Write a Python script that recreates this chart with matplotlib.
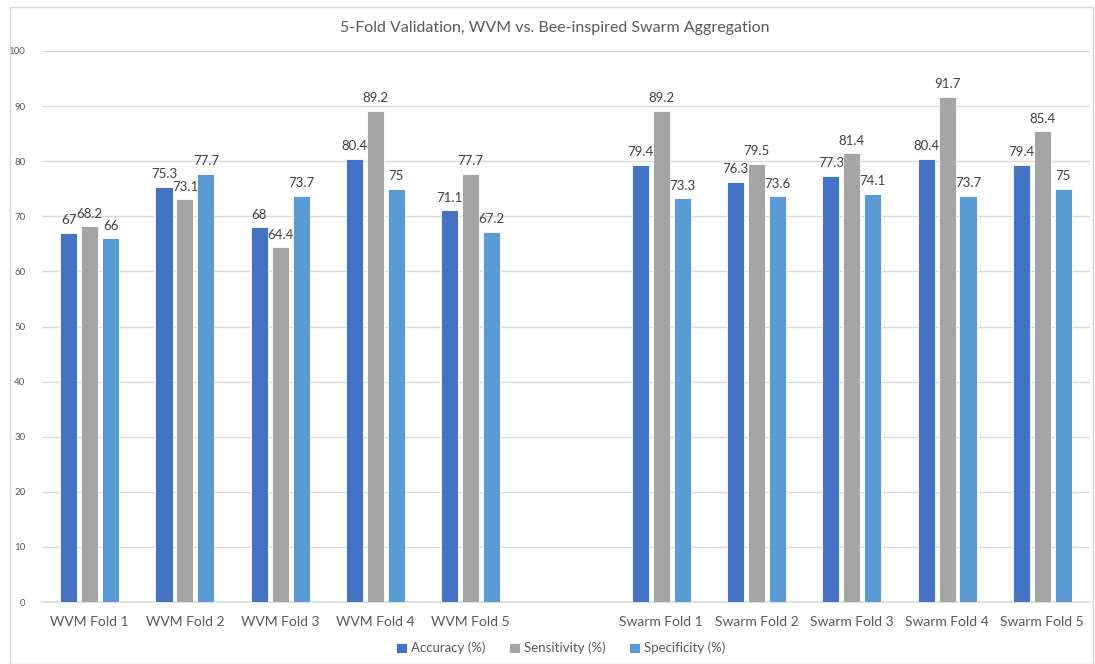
import numpy as np
import matplotlib
matplotlib.use('Agg')
from matplotlib import pyplot as plt
from matplotlib.patches import Rectangle

plt.rcParams['font.family'] = ['Lato', 'DejaVu Sans']

categories = ['WVM Fold 1', 'WVM Fold 2', 'WVM Fold 3', 'WVM Fold 4', 'WVM Fold 5', '',
              'Swarm Fold 1', 'Swarm Fold 2', 'Swarm Fold 3', 'Swarm Fold 4', 'Swarm Fold 5']
accuracy = [67, 75.3, 68, 80.4, 71.1, None, 79.4, 76.3, 77.3, 80.4, 79.4]
sensitivity = [68.2, 73.1, 64.4, 89.2, 77.7, None, 89.2, 79.5, 81.4, 91.7, 85.4]
specificity = [66, 77.7, 73.7, 75, 67.2, None, 73.3, 73.6, 74.1, 73.7, 75]

series = [
    ('Accuracy (%)', accuracy, '#4472C4'),
    ('Sensitivity (%)', sensitivity, '#A5A5A5'),
    ('Specificity (%)', specificity, '#5B9BD5'),
]

txt = '#595959'
fig = plt.figure(figsize=(10.95, 6.64), dpi=100)
ax = fig.add_axes([42 / 1095, 1 - 602 / 664, 1048 / 1095, 551 / 664])

x = np.arange(len(categories))
width = 0.18
step = 0.22
handles = []
for i, (name, vals, col) in enumerate(series):
    idx = [k for k, v in enumerate(vals) if v is not None]
    v = [vals[k] for k in idx]
    pos = x[idx] + (i - 1) * step
    b = ax.bar(pos, v, width, color=col, edgecolor='white', linewidth=0.6, zorder=3, label=name)
    handles.append(b)
    for p, val in zip(pos, v):
        ax.text(p, val + 1.2, f'{val:g}', ha='center', va='bottom', fontsize=9.5, color='#404040')

ax.set_xlim(-0.5, len(categories) - 0.5)
ax.set_ylim(0, 100)
ax.set_yticks(range(0, 101, 10))
ax.set_xticks(x)
ax.set_xticklabels(categories, fontsize=10, color=txt)
ax.tick_params(axis='y', labelsize=7, colors=txt, length=0, pad=12)
ax.tick_params(axis='x', length=0, pad=10)
ax.grid(axis='y', color='#D9D9D9', linewidth=1, zorder=0)
for s in ['top', 'right', 'left']:
    ax.spines[s].set_visible(False)
ax.spines['bottom'].set_color('#D9D9D9')
ax.spines['bottom'].set_linewidth(1.2)

fig.text(0.507, 1 - 28 / 664, '5-Fold Validation, WVM vs. Bee-inspired Swarm Aggregation',
         ha='center', va='center', fontsize=11.5, color=txt)

fig.legend(handles=handles, loc='center', bbox_to_anchor=(0.512, 1 - 648 / 664), ncol=3,
           frameon=False, fontsize=9.5, handlelength=0.8, handleheight=0.8,
           handletextpad=0.3, columnspacing=1.8, labelcolor=txt)

fig.patches.append(Rectangle((10 / 1095, 0), 1083 / 1095, 1 - 7 / 664, transform=fig.transFigure,
                             fill=False, edgecolor='#D9D9D9', linewidth=1))

fig.savefig('out.png', dpi=100)
